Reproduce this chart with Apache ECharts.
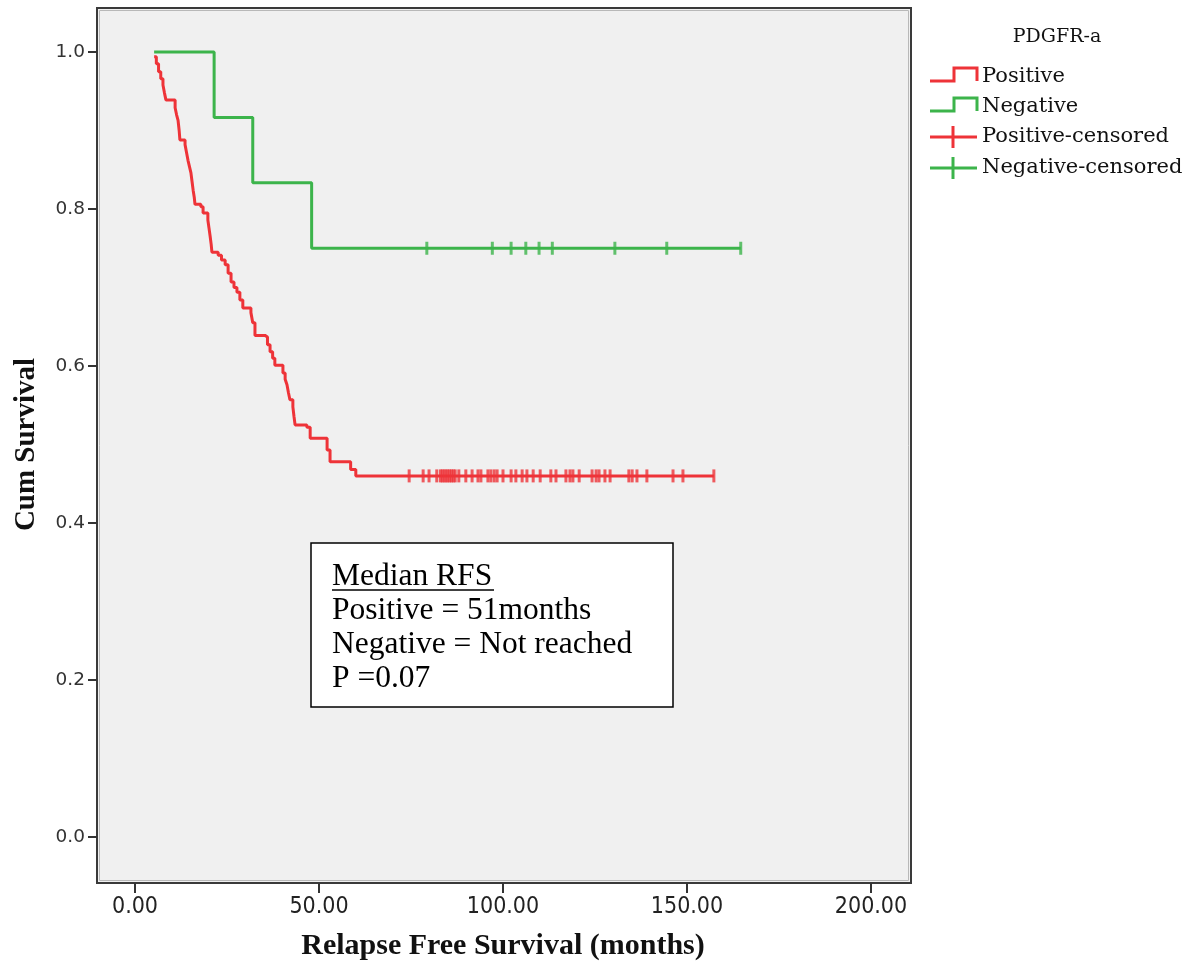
<!DOCTYPE html>
<html>
<head>
<meta charset="utf-8">
<script src="https://cdn.jsdelivr.net/npm/echarts@6/dist/echarts.min.js"></script>
<style>
  html, body { margin: 0; padding: 0; background: #ffffff; }
  #chart { width: 1197px; height: 968px; }
</style>
</head>
<body>
<div id="chart"></div>
<script>
// Kaplan-Meier relapse free survival by PDGFR-a status
// Step curves: each point = time of an event (months) and survival after it
const posTimes = [5.2, 5.8, 6.4, 7.0, 7.6, 8.0, 8.4, 10.9, 11.3, 11.7, 12.0, 12.2,
  13.6, 14.0, 14.4, 14.8, 15.2, 15.5, 15.8, 16.1, 16.3, 17.9, 18.5,
  19.8, 20.1, 20.4, 20.7, 20.9, 22.6, 23.5, 24.5, 25.3, 26.1, 26.9, 27.7, 28.5, 29.3,
  31.5, 32.0, 32.6, 35.3, 36.0, 36.7, 37.4, 38.0, 40.2, 40.8, 41.3, 41.7, 42.1, 42.9, 43.2, 43.5,
  46.7, 47.6, 52.2, 53.0, 58.6, 60.0, 157.3];
const posSurv = [0.994, 0.985, 0.975, 0.966, 0.958, 0.948, 0.939, 0.929, 0.920, 0.913, 0.900, 0.888,
  0.882, 0.872, 0.862, 0.854, 0.846, 0.835, 0.824, 0.815, 0.806, 0.803, 0.795,
  0.786, 0.776, 0.766, 0.755, 0.745, 0.741, 0.735, 0.729, 0.718, 0.707, 0.700, 0.694, 0.684, 0.674,
  0.668, 0.655, 0.639, 0.637, 0.627, 0.618, 0.610, 0.601, 0.591, 0.583, 0.576, 0.566, 0.557, 0.548, 0.536, 0.525,
  0.522, 0.508, 0.493, 0.478, 0.468, 0.460, 0.460];

const negTimes = [5.2, 21.5, 32.0, 48.0, 164.6];
const negSurv = [1.0, 0.9167, 0.8333, 0.75, 0.75];

// Censored observations (months)
const posCensor = [74.5, 78.3, 79.9, 82.0, 83.0, 83.5, 84.0, 84.5, 85.0, 85.5, 86.0, 86.5, 87.0, 88.0,
  89.9, 91.6, 93.2, 94.0, 95.9, 96.7, 97.6, 98.4, 100.0, 102.2, 103.5, 105.2, 106.5, 108.2, 110.1,
  113.0, 114.4, 117.1, 118.2, 119.0, 120.7, 124.2, 125.3, 126.1, 127.7, 129.1, 134.2, 135.1, 136.4,
  139.1, 146.2, 148.9, 157.3];
const negCensor = [79.3, 97.1, 102.2, 106.2, 109.8, 113.4, 130.4, 144.5, 164.6];

const groups = ['Positive', 'Negative'];
const legendItems = ['Positive', 'Negative', 'Positive-censored', 'Negative-censored'];
const noteLines = ['Median RFS', 'Positive = 51months', 'Negative = Not reached', 'P =0.07'];

const RED = '#ee3338';
const GREEN = '#3cb44b';

function pairs(xs, ys) { return xs.map((x, i) => [x, ys[i]]); }
function censorPoints(ts, level) { return ts.map(t => [t, level]); }

const posLevel = posSurv[posSurv.length - 1];
const negLevel = negSurv[negSurv.length - 1];

const serif = "'Liberation Serif', 'Times New Roman', serif";
const legendFont = "'DejaVu Serif', serif";

// legend drawn as graphic elements
const legendGraphics = [];
legendGraphics.push({
  type: 'text', z: 50,
  style: { text: 'PDGFR-a', x: 1057, y: 37, align: 'center', verticalAlign: 'middle',
    fontFamily: legendFont, fontSize: 19, fill: '#111' }
});
const rowY = [77, 107, 137, 168];
legendItems.forEach((name, i) => {
  const y = rowY[i];
  const col = (i % 2 === 0) ? RED : GREEN;
  if (i < 2) {
    legendGraphics.push({
      type: 'polyline', z: 50,
      shape: { points: [[930, y + 4], [954, y + 4], [954, y - 9], [977, y - 9], [977, y + 4]] },
      style: { stroke: col, lineWidth: 3, fill: null }
    });
  } else {
    legendGraphics.push({
      type: 'line', z: 50,
      shape: { x1: 930, y1: y, x2: 977, y2: y },
      style: { stroke: col, lineWidth: 3 }
    });
    legendGraphics.push({
      type: 'line', z: 50,
      shape: { x1: 953, y1: y - 11, x2: 953, y2: y + 11 },
      style: { stroke: col, lineWidth: 3 }
    });
  }
  legendGraphics.push({
    type: 'text', z: 50,
    style: { text: name, x: 982, y: y, align: 'left', verticalAlign: 'middle',
      fontFamily: legendFont, fontSize: 21, fill: '#111' }
  });
});

// annotation box
const boxGraphics = [
  { type: 'rect', z: 100, shape: { x: 311, y: 543, width: 362, height: 164 },
    style: { fill: '#ffffff', stroke: '#000', lineWidth: 1.5 } }
];
noteLines.forEach((t, i) => {
  boxGraphics.push({
    type: 'text', z: 101,
    style: { text: t, x: 332, y: 577 + i * 34, align: 'left', verticalAlign: 'middle',
      fontFamily: serif, fontSize: 31.5, fill: '#000' }
  });
});
boxGraphics.push({ type: 'line', z: 101, shape: { x1: 332, y1: 590, x2: 494, y2: 590 },
  style: { stroke: '#000', lineWidth: 1.5 } });

const chart = echarts.init(document.getElementById('chart'), null, { renderer: 'canvas' });

chart.setOption({
  backgroundColor: '#ffffff',
  animation: false,
  grid: { left: 135, right: 326, top: 52, bottom: 131 },
  xAxis: {
    type: 'value', min: 0, max: 200, interval: 50, offset: 46,
    name: 'Relapse Free Survival (months)', nameLocation: 'middle', nameGap: 48,
    nameTextStyle: { fontFamily: serif, fontWeight: 'bold', fontSize: 30, color: '#111' },
    axisLine: { show: false, onZero: false },
    axisTick: { show: true, length: 10, lineStyle: { color: '#333', width: 2 } },
    axisLabel: { margin: 13, formatter: v => v.toFixed(2),
      fontFamily: "'Liberation Sans Narrow', 'DejaVu Sans Condensed', sans-serif", fontSize: 23, color: '#222' },
    splitLine: { show: false }
  },
  yAxis: {
    type: 'value', min: 0, max: 1, interval: 0.2, offset: 38,
    name: 'Cum Survival', nameLocation: 'middle', nameGap: 56, nameRotate: 90,
    nameTextStyle: { fontFamily: serif, fontWeight: 'bold', fontSize: 29, color: '#111' },
    axisLine: { show: false, onZero: false },
    axisTick: { show: true, length: 9, lineStyle: { color: '#333', width: 2 } },
    axisLabel: { margin: 12, formatter: v => v.toFixed(1),
      fontFamily: "'DejaVu Sans', sans-serif", fontSize: 18.5, color: '#333' },
    splitLine: { show: false }
  },
  graphic: [
    { type: 'rect', z: -10, silent: true, shape: { x: 97, y: 8, width: 814, height: 875 },
      style: { fill: '#f0f0f0', stroke: '#3a3a3a', lineWidth: 2 } },
    { type: 'rect', z: -9, silent: true, shape: { x: 99.5, y: 10.5, width: 809, height: 870 },
      style: { fill: null, stroke: '#b8b8b8', lineWidth: 1 } }
  ].concat(legendGraphics, boxGraphics),
  series: [
    { name: groups[0], type: 'line', step: 'end', clip: false, showSymbol: false,
      data: pairs(posTimes, posSurv), lineStyle: { color: RED, width: 3 }, z: 3 },
    { name: groups[1], type: 'line', step: 'end', clip: false, showSymbol: false,
      data: pairs(negTimes, negSurv), lineStyle: { color: GREEN, width: 3 }, z: 3 },
    { name: legendItems[2], type: 'scatter', clip: false, symbol: 'rect', symbolSize: [3, 13],
      data: censorPoints(posCensor, posLevel), itemStyle: { color: RED }, z: 4 },
    { name: legendItems[3], type: 'scatter', clip: false, symbol: 'rect', symbolSize: [3, 13],
      data: censorPoints(negCensor, negLevel), itemStyle: { color: GREEN }, z: 4 }
  ]
});
</script>
</body>
</html>
